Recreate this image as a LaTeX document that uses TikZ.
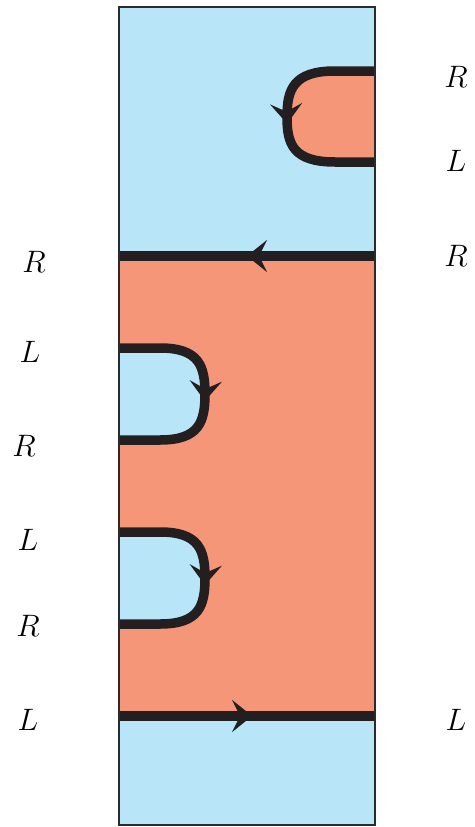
\RequirePackage{fix-cm}
\documentclass[tikz,border=0pt]{standalone}
\usetikzlibrary{arrows.meta,decorations.markings}
\definecolor{sky}{HTML}{B9E5F9}
\definecolor{salmon}{HTML}{F69678}
\definecolor{ink}{HTML}{231F20}
\definecolor{frame}{HTML}{2B2B2B}
\tikzset{
  strand/.style={draw=ink,line width=9.5pt},
  midarrow/.style={postaction={decorate,decoration={markings,
      mark=at position #1 with {\arrow{Stealth[length=20pt,width=32pt,inset=8pt]}}}}},
  lab/.style={font=\fontsize{31}{31}\selectfont,inner sep=0pt},
}
\begin{document}
\begin{tikzpicture}[x=1pt,y=-1pt]
\useasboundingbox (0,0) rectangle (474,827);
% background strip and the salmon band
\fill[sky] (119,7) rectangle (375,825);
\fill[salmon] (119,256) rectangle (375,716);
% enclosed regions of the three loops
\fill[salmon] (375,71) -- (335,71) .. controls (293,71) and (287,90) .. (287,117)
  .. controls (287,144) and (293,162) .. (335,162) -- (375,162) -- cycle;
\fill[sky] (119,348) -- (160,348) .. controls (199,348) and (205,366) .. (205,394)
  .. controls (205,422) and (199,440) .. (160,440) -- (119,440) -- cycle;
\fill[sky] (119,532) -- (160,532) .. controls (199,532) and (205,550) .. (205,578)
  .. controls (205,606) and (199,624) .. (160,624) -- (119,624) -- cycle;
% strands
\coordinate (tr1) at (375,71);  \coordinate (tr2) at (375,162);
\coordinate (ml) at (119,256);  \coordinate (mr) at (375,256);
\coordinate (bl) at (119,716);  \coordinate (br) at (375,716);
\coordinate (a1) at (119,348);  \coordinate (a2) at (119,440);
\coordinate (b1) at (119,532);  \coordinate (b2) at (119,624);
\path[strand,midarrow=0.53] (tr1) -- (335,71) .. controls (293,71) and (287,90) .. (287,117)
  .. controls (287,144) and (293,162) .. (335,162) -- (tr2);
\path[strand,midarrow=0.53] (a1) -- (160,348) .. controls (199,348) and (205,366) .. (205,394)
  .. controls (205,422) and (199,440) .. (160,440) -- (a2);
\path[strand,midarrow=0.53] (b1) -- (160,532) .. controls (199,532) and (205,550) .. (205,578)
  .. controls (205,606) and (199,624) .. (160,624) -- (b2);
\path[strand,midarrow=0.50] (mr) -- (ml);
\path[strand,midarrow=0.52] (bl) -- (br);
% frame
\draw[frame,line width=2.8pt] (119,7) rectangle (375,825);
% labels
\node[lab] (lR1) at (34,262) {$R$};
\node[lab] (lL1) at (30,352) {$L$};
\node[lab] (lR2) at (24,446) {$R$};
\node[lab] (lL2) at (28,540) {$L$};
\node[lab] (lR3) at (28,626) {$R$};
\node[lab] (lL3) at (28,720) {$L$};
\node[lab] (rR1) at (456,77) {$R$};
\node[lab] (rL1) at (456,161) {$L$};
\node[lab] (rR2) at (456,256) {$R$};
\node[lab] (rL2) at (456,720) {$L$};
\end{tikzpicture}
\end{document}
